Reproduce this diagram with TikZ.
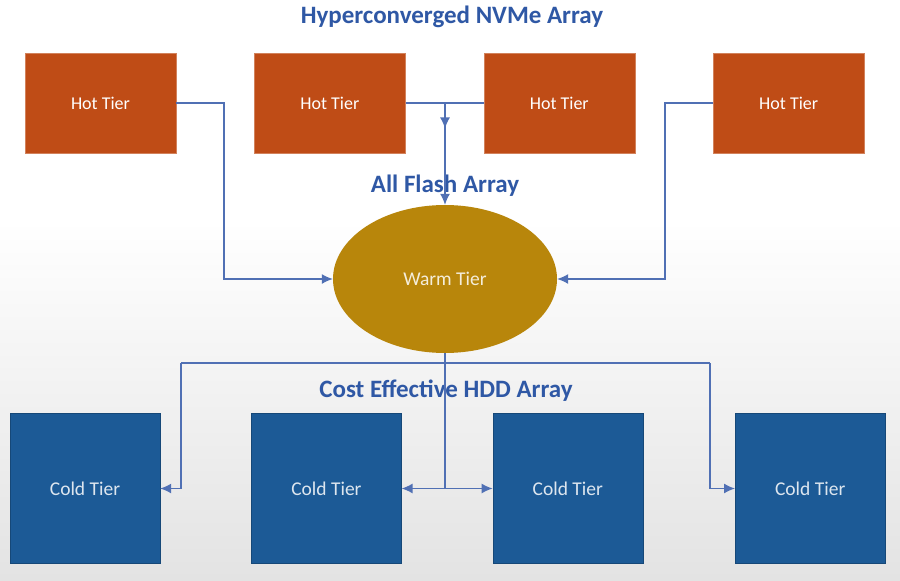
\documentclass[tikz,border=0pt]{standalone}
\usepackage{fontspec}
\setmainfont{Carlito}
\usetikzlibrary{positioning, arrows.meta, shapes.geometric, decorations.markings}

\definecolor{hotred}{RGB}{191,76,22}
\definecolor{warmgold}{RGB}{184,134,11}
\definecolor{coldblue}{RGB}{28,90,150}
\definecolor{titleblue}{RGB}{47,88,165}
\definecolor{wireblue}{RGB}{80,112,180}

\begin{document}
\begin{tikzpicture}[x=1pt, y=-1pt, auto,
  hot node/.style={rectangle, fill=hotred, draw=hotred!70!white, minimum width=151pt, minimum height=100pt, text=white, font=\fontsize{18}{20}\selectfont},
  cold node/.style={rectangle, fill=coldblue, draw=coldblue!80!black, minimum width=150pt, minimum height=150pt, text=white!85!coldblue, font=\fontsize{19.5}{22}\selectfont},
  warm node/.style={ellipse, fill=warmgold, minimum width=224pt, minimum height=148pt, inner sep=0pt, text=white!85!warmgold, font=\fontsize{19.5}{22}\selectfont},
  title/.style={text=titleblue, font=\bfseries\fontsize{25}{28}\selectfont},
  wire/.style={draw=wireblue, line width=1.3pt, -{Latex[length=11pt,width=10pt]}}]

% background
\fill[white] (0,0) rectangle (900,581);
\shade[top color=white, bottom color=black!11] (0,220) rectangle (900,581);
\useasboundingbox (0,0) rectangle (900,581);

\node[title] (T) at (452,17) {Hyperconverged NVMe Array};

\node[hot node] (H1) at (100.5,103) {Hot Tier};
\node[hot node] (H2) [right=78pt of H1] {Hot Tier};
\node[hot node] (H3) [right=78pt of H2] {Hot Tier};
\node[hot node] (H4) [right=78pt of H3] {Hot Tier};

\node[warm node] (W) at (445,279) {Warm Tier};
\node[title] (AF) at (445,186) {All Flash Array};

\node[cold node] (C1) at (85,488.5) {Cold Tier};
\node[cold node] (C2) [right=91pt of C1] {Cold Tier};
\node[cold node] (C3) [right=91pt of C2] {Cold Tier};
\node[cold node] (C4) [right=92pt of C3] {Cold Tier};

\node[title] (CE) at (446,391) {Cost Effective HDD Array};

\coordinate (k1) at (224,103);
\coordinate (k4) at (665,103);
\coordinate (m) at (445,103);
\coordinate (b) at (445,488.5);
\coordinate (l) at (181,363);
\coordinate (r) at (710,363);

% hot to warm
\draw[wire] (H1.east) -- (k1) |- (W.west);
\draw[wire] (H4.west) -- (k4) |- (W.east);
\draw[draw=wireblue, line width=1.3pt] (H2.east) -- (H3.west);
\draw[wire, postaction={decorate}, decoration={markings,
  mark=at position 0.25 with {\arrow{Latex[length=11pt,width=10pt]}}}] (m) -- (W.north);

% warm to cold
\draw[draw=wireblue, line width=1.3pt] (W.south) -- (b);
\draw[draw=wireblue, line width=1.3pt] (l) -- (r);
\draw[wire] (b) -- (C2.east);
\draw[wire] (b) -- (C3.west);
\draw[wire] (l) |- (C1.east);
\draw[wire] (r) |- (C4.west);

\end{tikzpicture}
\end{document}
